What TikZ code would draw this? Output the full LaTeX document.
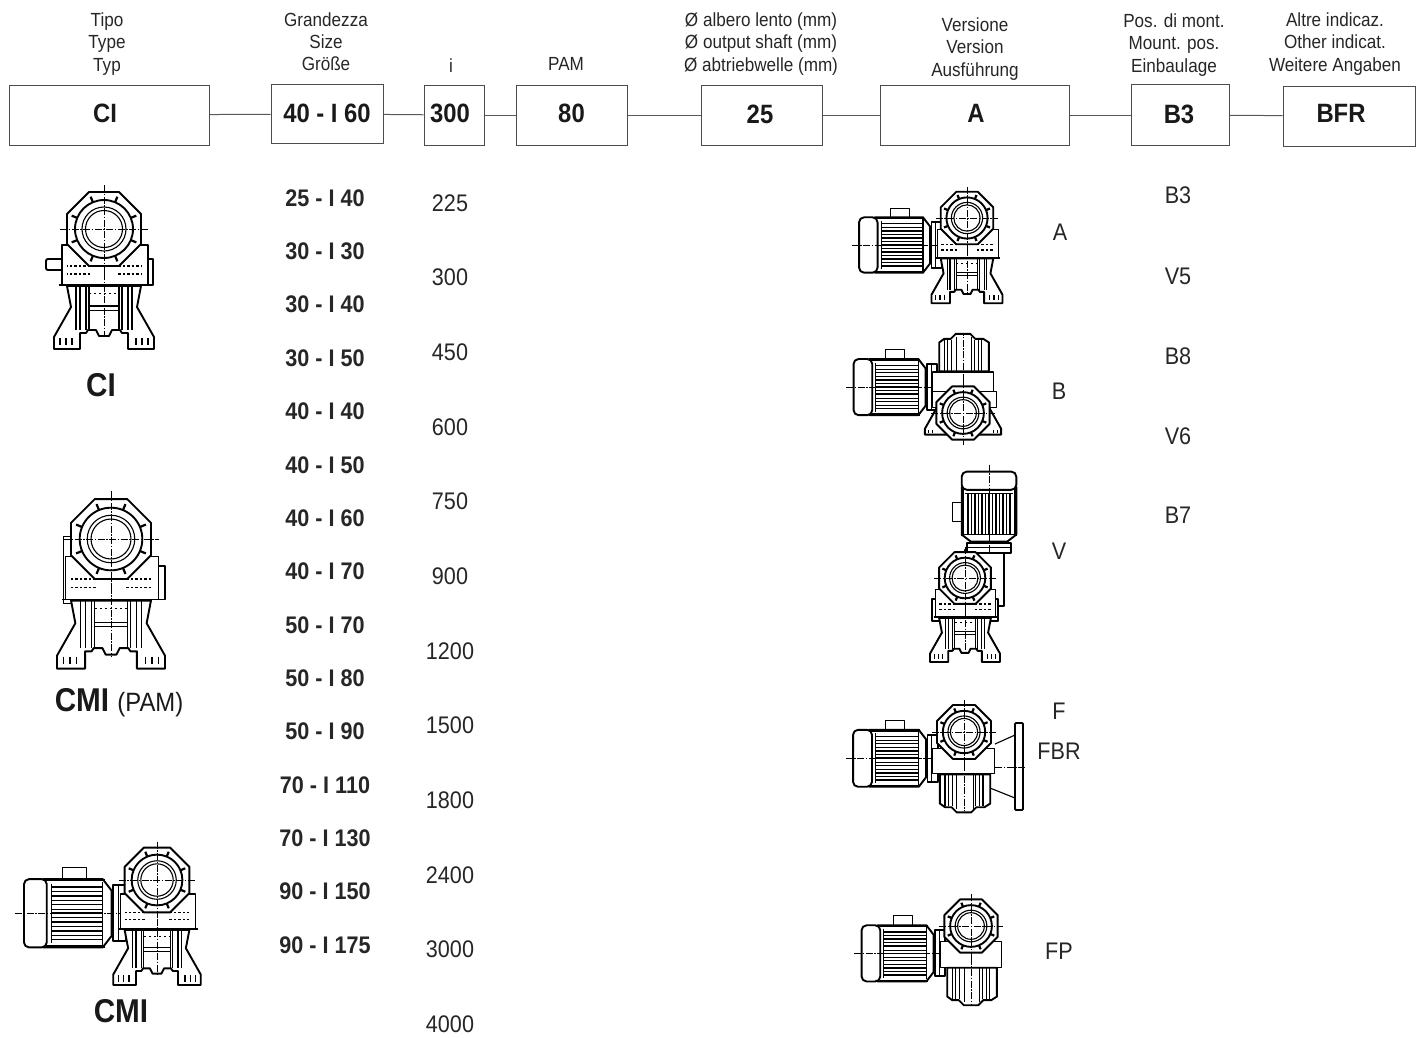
\documentclass[tikz,border=0pt]{standalone}
\usepackage{fontspec}
\setmainfont[FakeStretch=0.9]{Liberation Sans}
\usetikzlibrary{positioning}

\newcommand{\valtxt}[3]{\raisebox{#2pt}{\hspace*{#1pt}#3}}

\tikzset{
    fhead/.style={font=\fontsize{19}{22.2}\selectfont, align=center, text=black!85},
    fval/.style={font=\fontsize{26.5}{28}\bfseries\selectfont, text=black!90},
    fsize/.style={font=\fontsize{24}{26}\bfseries\selectfont, text=black!85},
    fitem/.style={font=\fontsize{24}{26}\selectfont, text=black!85},
    fcap/.style={font=\fontsize{33}{35}\bfseries\selectfont, text=black!90},
    valbox/.style={rectangle, draw=black!70, line width=1pt, fill=white, minimum height=60pt, inner sep=0pt, fval},
    conn/.style={draw=black!65, line width=1pt},
    gline/.style={line width=1.1pt, line join=round},
    gthick/.style={line width=1.9pt, line join=round},
    gthin/.style={line width=0.5pt},
    gaxis/.style={line width=0.5pt, dash pattern=on 7pt off 1.5pt on 1.5pt off 1.5pt},
    gheadpart/.pic={
        \draw[gthick, fill=white] (-15,-37) -- (15,-37) -- (37,-15) -- (37,15) -- (15,37) -- (-15,37) -- (-37,15) -- (-37,-15) -- cycle;
        \foreach \a in {22.5,67.5,...,337.5}
            \draw[line width=2.2pt] (\a:29) -- (\a:35);
        \draw[gthick] (0,0) circle (29);
        \draw[gline] (0,0) circle (22);
        \draw[gline] (0,0) circle (18.5);
        \draw[gaxis] (-44,0) -- (44,0);
        \draw[gaxis] (0,-44) -- (0,44);
    },
    gbasepart/.pic={
        \draw[gline, fill=white] (-42,16) -- (-42,56) -- (44,56) -- (44,16) -- cycle;
        \draw[gthick] (-45,56) -- (47,56);
        \draw[gthick, fill=white] (-37,57) -- (-33,78) -- (-50,108) -- (-50,120) -- (-24,120) -- (-24,104) -- (-18,104) -- (-16,101)
            -- (-8,101) -- (-5,107) -- (5,107) -- (8,101) -- (16,101) -- (18,104) -- (24,104) -- (24,120) -- (50,120) -- (50,108) -- (33,78) -- (37,57) -- cycle;
        \foreach \s in {-1,1} {
            \foreach \vx in {15,18,24,28}
                \draw[gline] (\s*\vx,57) -- (\s*\vx,101);
            \draw[line width=1.2pt, dash pattern=on 2.5pt off 2pt] (\s*14,37) -- (\s*37,37);
            \draw[line width=1.2pt, dash pattern=on 2.5pt off 2pt] (\s*14,45) -- (\s*37,45);
            \draw[line width=1.2pt] (\s*32,109) -- (\s*32,116) (\s*38,109) -- (\s*38,116) (\s*44,109) -- (\s*44,116);
        }
        \draw[gline] (-15,77) -- (15,77);
        \draw[gthin] (-15,81) -- (15,81);
        \draw[line width=1pt, dash pattern=on 2pt off 3pt] (-15,64) -- (15,64);
        \draw[gaxis] (0,44) -- (0,108);
    },
    gpotpart/.pic={
        \draw[gline, fill=white] (-43,22) -- (-43,57) -- (42,57) -- (42,22) -- cycle;
        \draw[gthick, fill=white] (-33,58) -- (-33,98) -- (-26,103) -- (-17,103) -- (-10,110) -- (10,110) -- (17,103) -- (28,103) -- (36,98) -- (36,58) -- cycle;
        \foreach \vx in {-26,-21,-16,16,21,26}
            \draw[gline] (\vx,58) -- (\vx,102);
        \draw[gthin] (-10,58) -- (-10,105) (12,58) -- (12,105);
        \draw[gaxis] (0,44) -- (0,108);
    },
    gmotorpart/.pic={
        \draw[gline, fill=white] (-108,-52) rectangle (-81,-38);
        \draw[gthick, fill=white] (-130,-39) -- (-62,-39) -- (-52,-26) -- (-52,26) -- (-62,39) -- (-130,39) -- cycle;
        \draw[line width=2.4pt] (-127,-38) -- (-60,-38) (-127,38) -- (-60,38);
        \draw[gthick, fill=white, rounded corners=5pt] (-152,-39) rectangle (-126,39);
        \foreach \fy in {-30,-20,...,30}
            \draw[line width=1.6pt] (-121,\fy) -- (-63,\fy);
        \foreach \fy in {-25,-15,...,25}
            \draw[gthin] (-121,\fy) -- (-63,\fy);
        \draw[gline] (-121,-34) -- (-121,34);
        \draw[gline] (-62,-36) -- (-62,36);
        \draw[gthick, fill=white] (-50,-32) rectangle (-36,32);
        \draw[gline] (-44,-32) -- (-44,32);
        \draw[gaxis] (-162,0) -- (-36,0);
    },
    gfootpart/.pic={
        \draw[gthick, fill=white] (-36,-8) -- (-53,22) -- (-53,30) -- (53,30) -- (53,22) -- (36,-8) -- cycle;
        \draw[line width=1.2pt] (-48,24) -- (-48,28) (-42,24) -- (-42,28) (48,24) -- (48,28) (42,24) -- (42,28);
    },
}

\begin{document}
\begin{tikzpicture}[x=1pt, y=-1pt]
    \useasboundingbox (0,0) rectangle (1418,1037);

    % Code boxes
    \node[valbox, minimum width=200pt] (tipo) at (109,115) {\valtxt{-8}{4}{CI}};
    \node[valbox, minimum width=112pt, minimum height=59pt] (grand) at (327,114) {\valtxt{0}{2}{40 - I 60}};
    \node[valbox, minimum width=60pt] (rapp) at (454,115) {\valtxt{-8}{4}{300}};
    \node[valbox, minimum width=111pt] (pam) at (571.5,115) {\valtxt{0}{4}{80}};
    \node[valbox, minimum width=121pt] (albero) at (761.5,115) {\valtxt{-3}{2}{25}};
    \node[valbox, minimum width=189pt] (vers) at (974.5,115) {\valtxt{3}{4}{A}};
    \node[valbox, minimum width=98pt, minimum height=61pt] (pos) at (1180,115) {\valtxt{-2}{1}{B3}};
    \node[valbox, minimum width=132pt] (altre) at (1349,116) {\valtxt{-16}{6}{BFR}};

    % Connectors
    \draw[conn] (tipo) -- (grand);
    \draw[conn] (grand) -- (rapp);
    \draw[conn] (rapp) -- (pam);
    \draw[conn] (pam) -- (albero);
    \draw[conn] (albero) -- (vers);
    \draw[conn] (vers) -- (pos);
    \draw[conn] (pos) -- (altre);

    % Header texts
    \node[fhead] (h1) at (107,44) {Tipo\\Type\\Typ};
    \node[fhead] (h2) at (326,42) {Grandezza\\Size\\Größe};
    \node[fhead] (h3) at (451,66) {i};
    \node[fhead] (h4) at (566,64) {PAM};
    \node[fhead] (h5) at (761,44) {Ø albero lento (mm)\\Ø output shaft (mm)\\Ø abtriebwelle (mm)};
    \node[fhead] (h6) at (975,49) {Versione\\Version\\Ausführung};
    \node[fhead] (h7) at (1174,45) {Pos. di mont.\\Mount. pos.\\Einbaulage};
    \node[fhead] (h8) at (1335,44) {Altre indicaz.\\Other indicat.\\Weitere Angaben};

    % Size column
    \foreach \lab [count=\k from 0] in {25 - I 40,30 - I 30,30 - I 40,30 - I 50,40 - I 40,40 - I 50,40 - I 60,40 - I 70,50 - I 70,50 - I 80,50 - I 90,70 - I 110,70 - I 130,90 - I 150,90 - I 175}
        \node[fsize] (s\k) at (325,{198+53.35*\k}) {\lab};

    % Ratio column
    \foreach \lab [count=\k from 0] in {225,300,450,600,750,900,1200,1500,1800,2400,3000,4000}
        \node[fitem] (r\k) at (450,{203+74.64*\k}) {\lab};

    % Mounting positions
    \node[fitem] (p1) at (1178,195) {B3};
    \node[fitem] (p2) at (1178,276) {V5};
    \node[fitem] (p3) at (1178,356) {B8};
    \node[fitem] (p4) at (1178,436) {V6};
    \node[fitem] (p5) at (1178,515) {B7};

    % Version labels
    \node[fitem] (v1) at (1060,232) {A};
    \node[fitem] (v2) at (1059,391) {B};
    \node[fitem] (v3) at (1059,551) {V};
    \node[fitem] (v4) at (1059,711) {F};
    \node[fitem] (v5) at (1059,751) {FBR};
    \node[fitem] (v6) at (1059,951) {FP};

    % Captions
    \node[fcap] (c1) at (101,385) {CI};
    \node[fcap] (c2) at (119,703) {CMI {\fontsize{26.5}{28}\mdseries\selectfont (PAM)}};
    \node[fcap] (c3) at (121,1011) {CMI};

    % Unit CI
    \begin{scope}[shift={(104,229)}]
        \draw[gthick, fill=white, rounded corners=2pt] (-58,30) rectangle (-40,41);
        \draw[gthick, fill=white] (43,30) rectangle (49,56);
        \pic {gbasepart};
        \pic {gheadpart};
    \end{scope}

    % Unit CMI (PAM)
    \begin{scope}[shift={(111,539)}, scale=1.08, transform shape]
        \draw[gline, fill=white] (-44,-2) rectangle (-36,60);
        \draw[gthick, fill=white] (43,25) rectangle (50,56);
        \pic {gbasepart};
        \pic {gheadpart};
    \end{scope}

    % Unit CMI
    \begin{scope}[shift={(157,880)}, scale=.875, transform shape]
        \begin{scope}[shift={(0,38)}]
            \pic {gmotorpart};
        \end{scope}
        \pic {gbasepart};
        \pic {gheadpart};
    \end{scope}

    % Version A
    \begin{scope}[shift={(967,218)}, scale=.71, transform shape]
        \begin{scope}[shift={(0,38)}]
            \pic {gmotorpart};
        \end{scope}
        \pic {gbasepart};
        \pic {gheadpart};
    \end{scope}

    % Version B
    \begin{scope}[shift={(963,413)}, scale=.72, transform shape]
        \begin{scope}[shift={(0,-36)}]
            \pic {gmotorpart};
        \end{scope}
        \begin{scope}[yscale=-1]
            \pic {gpotpart};
        \end{scope}
        \draw[gline, fill=white] (-43,-30) rectangle (46,-8);
        \pic {gfootpart};
        \pic {gheadpart};
    \end{scope}

    % Version V
    \draw[gthick, fill=white] (965,550) -- (1004,550) -- (1004,606) -- (975,606) -- cycle;
    \begin{scope}[shift={(989,578)}, scale=.7, transform shape]
        \begin{scope}[rotate=-90, yscale=-1]
            \pic {gmotorpart};
        \end{scope}
    \end{scope}
    \begin{scope}[shift={(965,578)}, scale=.7, transform shape]
        \draw[gthick, fill=white] (-47,30) rectangle (47,62);
        \pic {gbasepart};
        \pic {gheadpart};
    \end{scope}

    % Version F
    \draw[gline] (995,744) -- (1015,735) (990,788) -- (1015,798);
    \draw[gthick, fill=white, rounded corners=1pt] (1015,723) rectangle (1023,810);
    \draw[gaxis] (995,767) -- (1026,767);
    \begin{scope}[shift={(964,732)}, scale=.73, transform shape]
        \begin{scope}[shift={(0,36)}]
            \pic {gmotorpart};
        \end{scope}
        \pic {gpotpart};
        \pic {gheadpart};
    \end{scope}

    % Version FP
    \begin{scope}[shift={(971,926)}, scale=.72, transform shape]
        \begin{scope}[shift={(0,38)}]
            \pic {gmotorpart};
        \end{scope}
        \pic {gpotpart};
        \pic {gheadpart};
    \end{scope}
\end{tikzpicture}
\end{document}
